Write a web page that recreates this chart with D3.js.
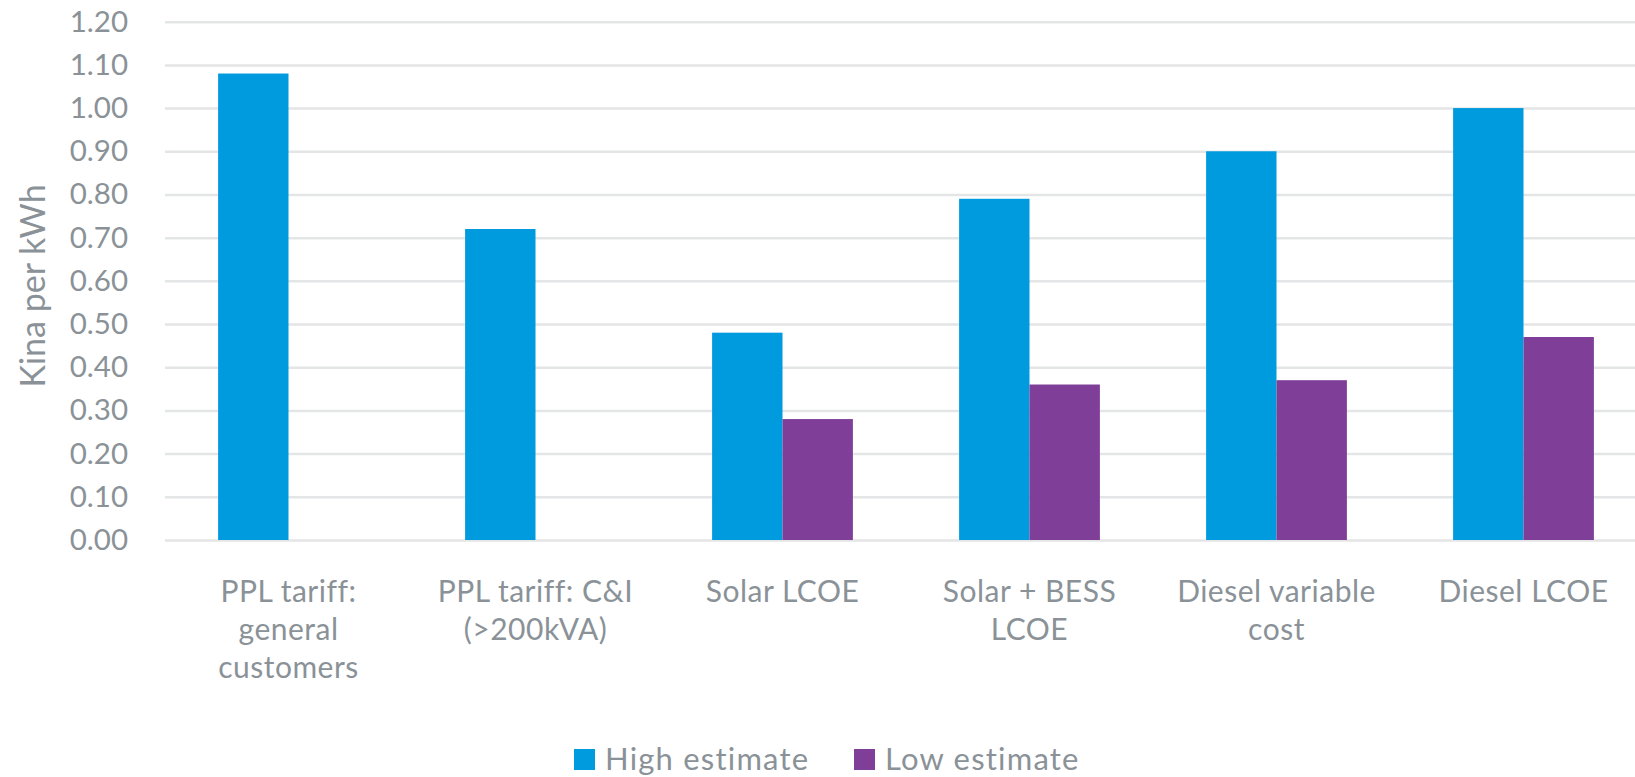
<!DOCTYPE html>
<html>
<head>
<meta charset="utf-8">
<script src="https://cdn.jsdelivr.net/npm/d3@7"></script>
<style>
  body { margin: 0; background: #fff; }
  text { font-family: Lato, "Open Sans", sans-serif; fill: #8a9298; }
</style>
</head>
<body>
<div id="chart"></div>
<script>
// data
const categories = ["PPL tariff: general customers", "PPL tariff: C&I (>200kVA)", "Solar LCOE",
  "Solar + BESS LCOE", "Diesel variable cost", "Diesel LCOE"];
// how each category label wraps
const labelLines = [
  ["PPL tariff:", "general", "customers"],
  ["PPL tariff: C&I", "(>200kVA)"],
  ["Solar LCOE"],
  ["Solar + BESS", "LCOE"],
  ["Diesel variable", "cost"],
  ["Diesel LCOE"]
];
const seriesNames = ["High estimate", "Low estimate"];
const highEstimate = [1.08, 0.72, 0.48, 0.79, 0.90, 1.00];
const lowEstimate = [null, null, 0.28, 0.36, 0.37, 0.47];
const yTicks = [0, 0.1, 0.2, 0.3, 0.4, 0.5, 0.6, 0.7, 0.8, 0.9, 1.0, 1.1, 1.2];
const colors = ["#009ade", "#7f3f98"];

const W = 1635, H = 777;
const margin = { left: 165, top: 21.7, bottom: 237 };
// plot area runs past the right edge of the picture, as in the reference
const plotRight = 1647;
const plotH = H - margin.top - margin.bottom;

const svg = d3.select("#chart").append("svg")
  .attr("width", W)
  .attr("height", H);

const x0 = d3.scaleBand()
  .domain(categories)
  .range([margin.left, plotRight])
  .paddingInner(0.43)
  .paddingOuter(0.215);

const x1 = d3.scaleBand()
  .domain(seriesNames)
  .range([0, x0.bandwidth()]);

const y = d3.scaleLinear()
  .domain([0, 1.2])
  .range([margin.top + plotH, margin.top]);

// gridlines + tick labels
const yAxis = d3.axisLeft(y)
  .tickValues(yTicks)
  .tickFormat(d3.format(".2f"))
  .tickSize(-(plotRight - margin.left))
  .tickPadding(37);

const gy = svg.append("g")
  .attr("class", "axis")
  .attr("transform", `translate(${margin.left},0)`)
  .call(yAxis);
gy.select(".domain").remove();
gy.selectAll("line")
  .attr("stroke", "#e4e5e6")
  .attr("stroke-width", 2.5);
gy.selectAll("text")
  .style("font-size", "29.5px")
  .attr("fill", "#8a9298");

// y title
svg.append("text")
  .attr("transform", "translate(45,286) rotate(-90)")
  .attr("text-anchor", "middle")
  .style("font-size", "34px")
  .text("Kina per kWh");

// bars
const rows = categories.map((c, i) => ({
  cat: c,
  vals: [highEstimate[i], lowEstimate[i]]
}));

const groups = svg.append("g")
  .attr("class", "bars")
  .selectAll("g")
  .data(rows)
  .enter().append("g")
    .attr("transform", d => `translate(${x0(d.cat)},0)`);

groups.selectAll("rect")
  .data(d => d.vals.map((v, j) => ({ name: seriesNames[j], v: v, j: j })).filter(e => e.v != null))
  .enter().append("rect")
    .attr("x", d => x1(d.name))
    .attr("y", d => y(d.v))
    .attr("width", x1.bandwidth())
    .attr("height", d => y(0) - y(d.v))
    .attr("fill", d => colors[d.j]);

// category labels
const xlab = svg.append("g")
  .attr("class", "xlabels")
  .selectAll("text")
  .data(categories)
  .enter().append("text")
    .attr("x", d => x0(d) + x0.bandwidth() / 2)
    .attr("y", 602)
    .attr("text-anchor", "middle")
    .style("font-size", "30px")
    .style("letter-spacing", "0.5px");

xlab.each(function(d, i) {
  const t = d3.select(this);
  labelLines[i].forEach((ln, k) => {
    t.append("tspan")
      .attr("x", x0(d) + x0.bandwidth() / 2)
      .attr("dy", k === 0 ? 0 : 38)
      .text(ln);
  });
});

// legend
const legendX = [574, 854];
const legend = svg.append("g").attr("class", "legend");
legend.selectAll("rect")
  .data(seriesNames)
  .enter().append("rect")
    .attr("x", (d, i) => legendX[i])
    .attr("y", 749)
    .attr("width", 21)
    .attr("height", 21)
    .attr("fill", (d, i) => colors[i]);
legend.selectAll("text")
  .data(seriesNames)
  .enter().append("text")
    .attr("x", (d, i) => legendX[i] + 31)
    .attr("y", 770)
    .style("font-size", "31px")
    .style("letter-spacing", "1.2px")
    .text(d => d);
</script>
</body>
</html>
